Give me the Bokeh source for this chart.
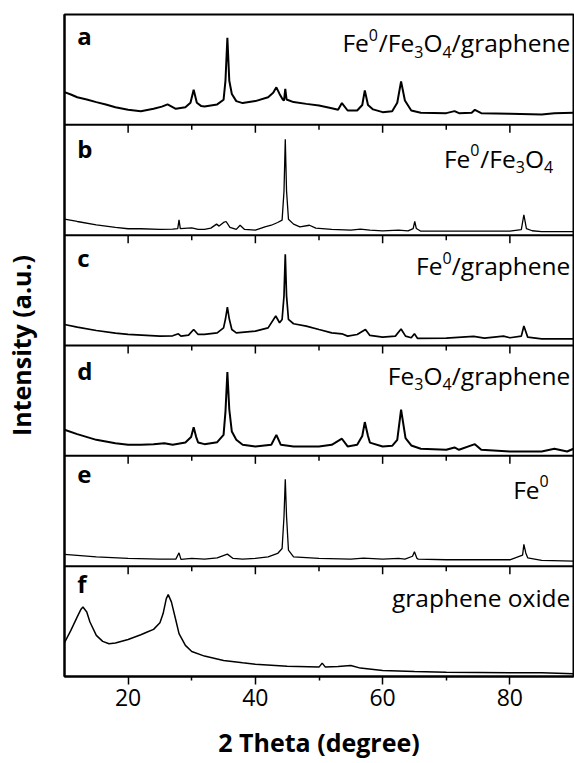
import numpy as np
from bokeh.plotting import figure
from bokeh.models import Span, Label, FixedTicker, Range1d
from bokeh.embed import file_html
from bokeh.resources import INLINE

# ---------------- data (intensity in % of panel height) ----------------
a_theta = [10, 11, 12, 13.5, 15, 16.5, 18, 20, 22, 24, 25.3, 26.2, 27.5, 29, 29.8, 30.3, 30.8, 31.5, 32, 34, 35,
           35.3, 35.6, 35.9, 36.3, 37, 38, 40, 42, 42.8, 43.3, 43.8, 44.3, 44.5, 44.7, 44.9, 46, 48, 50, 52, 53,
           53.6, 54.5, 56, 56.8, 57.2, 57.7, 58.5, 60, 61.5, 62.3, 62.9, 63.5, 64.5, 66, 70, 71.3, 72, 74, 74.5,
           75.5, 80, 85, 87, 90]
a_int = [29.7, 27.5, 25, 23, 20.6, 18.5, 16, 13.6, 12.4, 14.5, 16.5, 18.5, 14.5, 16, 20, 31.8, 20, 17, 16.7, 18.5, 22.7,
         40, 79, 40, 28, 21.5, 19.7, 21.5, 25, 29, 34, 28, 23, 22, 32.7, 23, 20.6, 19, 17.6, 15, 13.6,
         19.7, 13, 13, 18, 31.2, 18, 14, 11.5, 12.4, 20, 39.4, 22, 13, 11, 10.6, 12.4, 10.6, 11, 13.6,
         10.6, 10, 9.4, 10.6, 11]

b_theta = [10, 12, 15, 18, 20, 22, 25, 27, 27.8, 28, 28.2, 30, 31, 32, 33, 33.9, 34.3, 35, 35.4, 36, 37, 37.6, 38.3,
           40, 41.5, 42.5, 43.5, 44.2, 44.5, 44.7, 44.9, 45.2, 46, 47, 48.5, 49.5, 52, 55, 56.5, 58, 60, 62.5, 64,
           64.8, 65.05, 65.3, 66, 70, 75, 80, 81.8, 82.2, 82.6, 83.5, 85, 90]
b_int = [14.5, 12.4, 9.4, 7, 5.8, 5.8, 5.2, 5.5, 6, 14, 6, 6.7, 5.2, 5.2, 6.4, 10, 8.2, 11.5, 12.4, 7, 5.2, 9, 5.2,
         4.5, 7.6, 9, 11.5, 13.6, 40, 87, 40, 14.5, 10, 7.6, 9, 6.4, 5.2, 4.5, 5.5, 4.5, 3.9, 4.5, 3.9,
         6, 12.4, 6, 3.6, 3.6, 3.6, 3.6, 5, 18.5, 6, 4, 3.3, 3.3]

c_theta = [10, 12, 15, 18, 20, 25, 27, 27.9, 28.3, 29.5, 30.3, 31, 32, 34, 35, 35.3, 35.6, 35.9, 36.3, 37, 40, 42,
           43.2, 43.8, 44.2, 44.5, 44.7, 44.9, 45.2, 46, 48, 50, 52, 53.6, 54.5, 56, 57.3, 58, 60, 62, 62.9, 63.6,
           64.5, 65, 65.5, 70, 74.3, 76, 79, 80, 81.8, 82.2, 82.8, 85, 90]
c_int = [19, 16.7, 13.6, 11.2, 10, 8.5, 8.8, 10.6, 8.5, 9.4, 14.5, 10, 10, 11.5, 16, 24, 34.8, 24, 14.5, 11.5, 13, 16,
         26.7, 20.6, 23.6, 45, 82.7, 45, 23.6, 19.7, 17.6, 14.5, 11.5, 10.6, 8.5, 10, 14.5, 9.1, 7.6, 8.5, 15, 8.5,
         7, 10.6, 6.4, 6.7, 8.2, 6.7, 8.5, 7, 8.5, 17.6, 7.6, 6, 6]

d_theta = [10, 12, 15, 18, 20, 22, 24, 25.7, 27, 29, 29.9, 30.3, 30.7, 31, 32, 34, 35, 35.3, 35.6, 35.9, 36.3, 37,
           38, 40, 42.5, 43.3, 44, 46, 50, 52, 53.6, 54.5, 56, 56.8, 57.2, 57.7, 58, 60, 61.5, 62.3, 62.9, 63.6,
           64.5, 66, 70, 71.3, 72, 74.5, 75.5, 80, 85, 87, 89, 90]
d_int = [23.6, 19.7, 14.5, 11.5, 10, 10, 10.6, 11.5, 10, 12.1, 17, 25.8, 17, 12.1, 10.6, 12.4, 19, 40, 76, 42, 22, 14.5,
         10, 8.5, 10, 19, 10, 8.5, 8.5, 10, 15.5, 8.5, 10, 18, 30.6, 18, 12, 8.5, 9.1, 14.5, 41.8, 16,
         9.4, 6.4, 5.5, 7.6, 5.5, 10.6, 5.5, 3.9, 3.9, 6.4, 3.9, 6.4]

e_theta = [10, 15, 20, 25, 27.5, 28, 28.3, 30, 32, 34, 35.6, 36.5, 38, 40, 42, 43.5, 44.2, 44.5, 44.7, 44.9, 45.2,
           46, 50, 55, 57, 60, 62.5, 63.5, 64.7, 65, 65.4, 65.6, 70, 80, 82, 82.2, 82.5, 82.8, 85, 90]
e_int = [10.6, 8.5, 7, 6.4, 6.4, 12.1, 6.1, 7, 6.4, 7.6, 10.9, 7, 6.4, 7, 8.5, 11.5, 16, 45, 78.8, 45, 14.5,
         8.5, 7, 6.4, 7.3, 6.4, 7, 6.4, 9, 13, 7, 6.4, 5.8, 5.8, 10, 19.7, 12, 7.6, 5.2, 4.5]

f_theta = [10, 11, 12, 12.6, 12.9, 13.5, 14, 15, 16, 17, 18, 20, 22, 23, 24, 25, 25.5, 26, 26.3, 26.8, 27.5, 28, 29,
           30, 32, 35, 38, 40, 45, 50, 50.5, 51, 53, 55, 56.5, 60, 65, 70, 75, 80, 85, 90]
f_int = [30.6, 41.8, 54, 61, 63, 58.5, 49.4, 37.3, 31.8, 29.7, 30.3, 33.6, 37.9, 40.3, 42.7, 48.8, 57, 70.6, 74.2, 67.6,
         51, 38.8, 28.2, 22.7, 18.5, 14.5, 12.4, 11.2, 9.4, 8.5, 12.1, 8.5, 9.1, 10, 7.6, 5.5, 4.5, 3.9, 3.6, 3.3,
         3.3, 2.4]

letters = ["a", "b", "c", "d", "e", "f"]
names = [
    [("Fe", "n"), ("0", "sup"), ("/Fe", "n"), ("3", "sub"), ("O", "n"), ("4", "sub"), ("/graphene", "n")],
    [("Fe", "n"), ("0", "sup"), ("/Fe", "n"), ("3", "sub"), ("O", "n"), ("4", "sub")],
    [("Fe", "n"), ("0", "sup"), ("/graphene", "n")],
    [("Fe", "n"), ("3", "sub"), ("O", "n"), ("4", "sub"), ("/graphene", "n")],
    [("Fe", "n"), ("0", "sup")],
    [("graphene oxide", "n")],
]
x_ticks = [20, 40, 60, 80]
x_minor = [30, 50, 70]
x_title = "2 Theta (degree)"
y_title = "Intensity (a.u.)"

# ---------------- layout constants ----------------
FONT = "Open Sans"
PANEL_PX = 662 / 6.0
PX = 100.0 / PANEL_PX            # data units per pixel (vertical)
MAIN = 24.5
SMALL = 16
LIFT = 8.5                       # px correction of label baseline
ADV = {"F": 1120, "e": 1149, "/": 760, "O": 1599, "g": 1122, "r": 836, "a": 1139, "p": 1255, "h": 1257,
       "n": 1257, " ": 532, "o": 1237, "x": 1053, "i": 518, "d": 1255, "0": 1171, "3": 1171, "4": 1171}


def tw(s, size):
    return sum(ADV.get(ch, 1150) for ch in s) * size / 2048.0


p = figure(width=574, height=763, x_range=Range1d(10, 90), y_range=Range1d(0, 600),
           output_backend="svg", toolbar_location=None,
           min_border_left=61, min_border_right=1, min_border_top=14, min_border_bottom=87)
p.background_fill_color = "white"
p.border_fill_color = "white"
p.grid.visible = False
p.outline_line_color = "black"
p.outline_line_width = 2

# x axis
xa = p.xaxis[0]
xa.ticker = FixedTicker(ticks=x_ticks, minor_ticks=x_minor)
xa.major_tick_out = 8
xa.major_tick_in = 0
xa.minor_tick_out = 4
xa.minor_tick_in = 0
xa.major_tick_line_width = 1.5
xa.minor_tick_line_width = 1.5
xa.axis_line_width = 2
xa.major_label_text_font = FONT
xa.major_label_text_font_size = "23px"
xa.major_label_text_color = "black"
xa.major_label_standoff = 4
xa.axis_label = x_title
xa.axis_label_text_font = FONT
xa.axis_label_text_font_style = "bold"
xa.axis_label_text_font_size = "25px"
xa.axis_label_text_color = "black"
xa.axis_label_standoff = 16

# y axis
ya = p.yaxis[0]
ya.ticker = FixedTicker(ticks=[])
ya.major_tick_out = 0
ya.major_tick_in = 0
ya.minor_tick_out = 0
ya.minor_tick_in = 0
ya.major_label_standoff = 0
ya.axis_line_width = 2
ya.axis_label = y_title
ya.axis_label_text_font = FONT
ya.axis_label_text_font_style = "bold"
ya.axis_label_text_font_size = "25px"
ya.axis_label_text_color = "black"
ya.axis_label_standoff = 27

# separators and inner ticks
boundaries = [100, 200, 300, 400, 500]
for b in boundaries:
    p.add_layout(Span(location=b, dimension="width", line_color="black", line_width=2))
sx, sy0, sy1 = [], [], []
for b in boundaries:
    for t in x_ticks:
        sx.append(t); sy0.append(b); sy1.append(b - 8 * PX)
    for t in x_minor:
        sx.append(t); sy0.append(b); sy1.append(b - 5 * PX)
p.segment(x0=sx, y0=sy0, x1=sx, y1=sy1, line_color="black", line_width=1.5)

series = [(a_theta, a_int, 2.0), (b_theta, b_int, 1.3), (c_theta, c_int, 1.7),
          (d_theta, d_int, 2.0), (e_theta, e_int, 1.3), (f_theta, f_int, 1.5)]
offsets = [500, 400, 300, 200, 100, 0]
letter_base = [29.3, 32.3, 30.7, 33.3, 27.3, 25.7]      # px below panel top
name_base = [36.7, 41.7, 39.0, 38.3, 41.7, 39.7]        # px below panel top
name_right = [89.5, 86.8, 89.5, 89.5, 86.1, 89.5]

for i, (th, iv, lw) in enumerate(series):
    off = offsets[i]
    p.line(th, np.array(iv) + off, line_color="black", line_width=lw)
    top = off + 100
    p.add_layout(Label(x=12.0, y=top - letter_base[i] * PX, text=letters[i], text_font=FONT,
                       text_font_style="bold", text_font_size="24px", text_color="black",
                       text_baseline="alphabetic", text_align="left", y_offset=LIFT))
    pieces = names[i]
    after = 0.0
    for txt, kind in reversed(pieces):
        size = MAIN if kind == "n" else SMALL
        dy = 0
        if kind == "sup":
            dy = 8
        elif kind == "sub":
            dy = -9
        p.add_layout(Label(x=name_right[i], y=top - name_base[i] * PX, text=txt, text_font=FONT,
                           text_font_size=f"{size}px", text_color="black", text_baseline="alphabetic",
                           text_align="right", x_offset=-after, y_offset=dy + LIFT))
        after += tw(txt, size)

open("out.html", "w").write(file_html(p, INLINE))
